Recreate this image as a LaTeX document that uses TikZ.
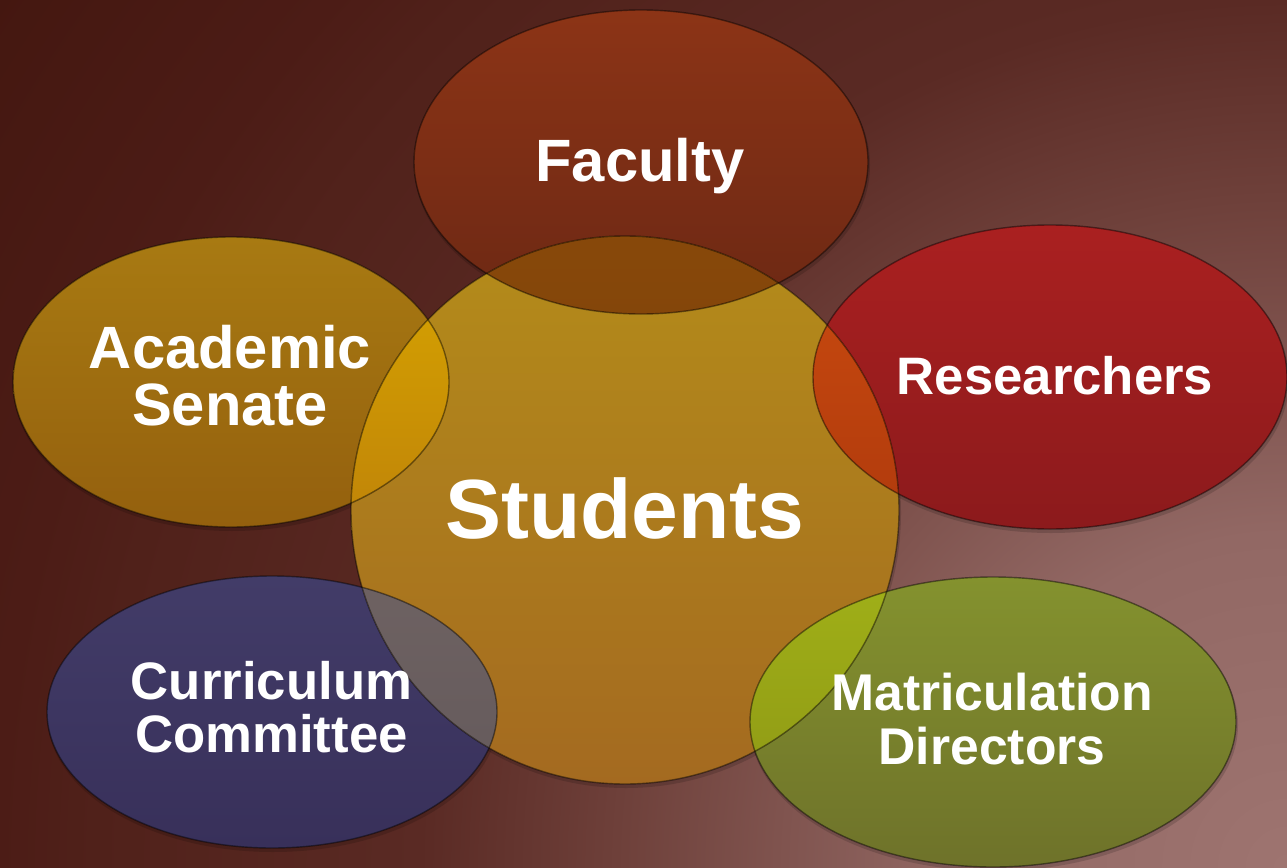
\documentclass[tikz,border=0pt]{standalone}
\usepackage{fontspec}
\setmainfont{Liberation Sans}
\definecolor{bgA}{HTML}{9E7470}
\definecolor{bgB}{HTML}{926864}
\definecolor{bgC}{HTML}{6E403A}
\definecolor{bgD}{HTML}{5A2A24}
\definecolor{bgE}{HTML}{50211A}
\definecolor{bgF}{HTML}{4C1C16}
\definecolor{bgG}{HTML}{441710}
\pgfdeclareradialshading{bgrad}{\pgfpoint{0bp}{0bp}}{color(0bp)=(bgA); color(5.35bp)=(bgB); color(10.75bp)=(bgC); color(13.9bp)=(bgD); color(19.1bp)=(bgE); color(20.65bp)=(bgF); color(25bp)=(bgG); color(50bp)=(bgG)}
\definecolor{facT}{HTML}{8C3416}\definecolor{facB}{HTML}{6C2814}
\definecolor{stuT}{HTML}{B48C1A}\definecolor{stuB}{HTML}{A46A20}
\definecolor{acaT}{HTML}{A87A12}\definecolor{acaB}{HTML}{94600E}
\definecolor{resT}{HTML}{AA2020}\definecolor{resB}{HTML}{8C1A1C}
\definecolor{curT}{HTML}{423C68}\definecolor{curB}{HTML}{38305A}
\definecolor{matT}{HTML}{84922E}\definecolor{matB}{HTML}{6E722A}
\definecolor{lfT}{HTML}{925008}\definecolor{lfB}{HTML}{84460A}
\definecolor{laT}{HTML}{D8A600}\definecolor{laB}{HTML}{C08408}
\definecolor{lrT}{HTML}{CC4C10}\definecolor{lrB}{HTML}{B03A0C}
\definecolor{lcT}{HTML}{6E6262}\definecolor{lcB}{HTML}{62585A}
\definecolor{lmT}{HTML}{A0B018}\definecolor{lmB}{HTML}{8A9214}
\tikzset{
  rim/.style={draw=black, draw opacity=0.45, line width=0.8pt},
  dropshadow/.style={fill=black, fill opacity=0.15},
  lbl/.style={text=white, font=\bfseries, inner sep=0pt, align=center}
}
\begin{document}
\begin{tikzpicture}[x=0.02cm,y=-0.02cm]
\useasboundingbox (0,0) rectangle (1287,868);
\begin{scope}
  \clip (0,0) rectangle (1287,868);
  \shade[shading=bgrad] (1287,868) circle [radius=1560];
\end{scope}
% soft drop shadows
\path[dropshadow] (642,165) ellipse [x radius=228, y radius=153];
\path[dropshadow] (232,385) ellipse [x radius=219, y radius=146];
\path[dropshadow] (1051,380) ellipse [x radius=238, y radius=153];
\path[dropshadow] (273,715) ellipse [x radius=226, y radius=137];
\path[dropshadow] (994,725) ellipse [x radius=244, y radius=146];
\path[dropshadow] (626,513) circle [radius=275];
% main shapes
\shade[top color=facT, bottom color=facB] (641,162) ellipse [x radius=227, y radius=152];
\shade[top color=acaT, bottom color=acaB] (231,382) ellipse [x radius=218, y radius=145];
\shade[top color=resT, bottom color=resB] (1050,377) ellipse [x radius=237, y radius=152];
\shade[top color=curT, bottom color=curB] (272,712) ellipse [x radius=225, y radius=136];
\shade[top color=matT, bottom color=matB] (993,722) ellipse [x radius=243, y radius=145];
\shade[top color=stuT, bottom color=stuB] (625,510) circle [radius=274];
% overlaps
\begin{scope}
  \clip (625,510) circle [radius=274];
  \shade[top color=lfT, bottom color=lfB] (641,162) ellipse [x radius=227, y radius=152];
  \shade[top color=laT, bottom color=laB] (231,382) ellipse [x radius=218, y radius=145];
  \shade[top color=lrT, bottom color=lrB] (1050,377) ellipse [x radius=237, y radius=152];
  \shade[top color=lcT, bottom color=lcB] (272,712) ellipse [x radius=225, y radius=136];
  \shade[top color=lmT, bottom color=lmB] (993,722) ellipse [x radius=243, y radius=145];
\end{scope}
% outlines
\path[rim] (641,162) ellipse [x radius=227, y radius=152];
\path[rim] (231,382) ellipse [x radius=218, y radius=145];
\path[rim] (1050,377) ellipse [x radius=237, y radius=152];
\path[rim] (272,712) ellipse [x radius=225, y radius=136];
\path[rim] (993,722) ellipse [x radius=243, y radius=145];
\path[rim] (625,510) circle [radius=274];
% labels
\node[lbl, anchor=base, font=\bfseries\fontsize{34}{34}\selectfont] (fac) at (640,182) {Faculty};
\node[lbl, anchor=base, font=\bfseries\fontsize{47.8}{48}\selectfont] (stu) at (625,538) {Students};
\node[lbl, anchor=base, font=\bfseries\fontsize{30}{30}\selectfont] (res) at (1055,394) {Researchers};
\node[lbl, font=\bfseries\fontsize{34}{32.5}\selectfont] (aca) at (230,376) {Academic\\Senate};
\node[lbl, font=\bfseries\fontsize{30}{29.8}\selectfont] (cur) at (271.5,707) {Curriculum\\Committee};
\node[lbl, font=\bfseries\fontsize{29.4}{30.9}\selectfont] (mat) at (992,719) {Matriculation\\Directors};
\end{tikzpicture}
\end{document}
